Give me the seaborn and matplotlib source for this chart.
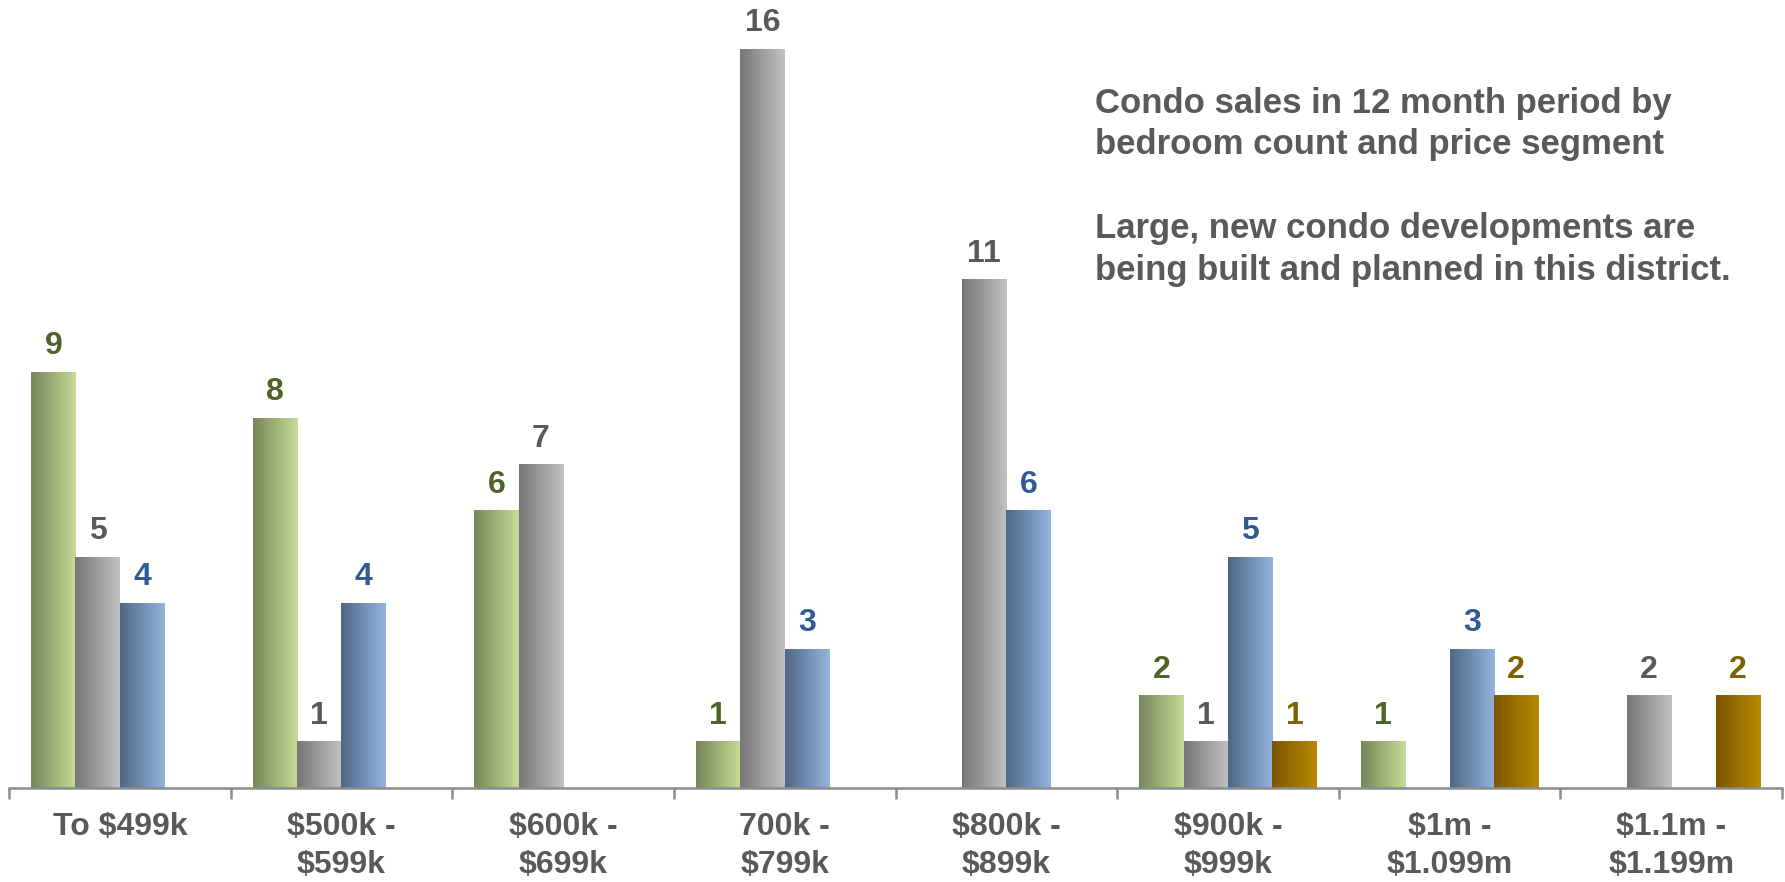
import numpy as np
import pandas as pd
import matplotlib
matplotlib.use("Agg")
import matplotlib.pyplot as plt
from matplotlib.colors import LinearSegmentedColormap
from matplotlib.font_manager import FontProperties
import seaborn as sns

categories = ["To $499k", "$500k -\n$599k", "$600k -\n$699k", "700k -\n$799k",
              "$800k -\n$899k", "$900k -\n$999k", "$1m -\n$1.099m", "$1.1m -\n$1.199m"]
series = ["1 bedroom", "2 bedrooms", "3 bedrooms", "4 bedrooms"]
one_bed = [9, 8, 6, 1, 0, 2, 1, 0]
two_bed = [5, 1, 7, 16, 11, 1, 0, 2]
three_bed = [4, 4, 0, 3, 6, 5, 3, 0]
four_bed = [0, 0, 0, 0, 0, 1, 2, 2]
title_lines = ["Condo sales in 12 month period by", "bedroom count and price segment",
               "Large, new condo developments are", "being built and planned in this district."]

base_colors = ["#9fb377", "#9c9c9c", "#7390b8", "#9a7000"]
grad_dark = ["#76865a", "#767676", "#4f6686", "#7a5600"]
grad_light = ["#c6dc96", "#c2c2c2", "#94b4de", "#b98a00"]
label_colors = ["#4f6228", "#595959", "#2f5a93", "#7f6000"]
text_gray = "#595959"
axis_gray = "#8c8c8c"

rows = []
for s, vals in zip(series, [one_bed, two_bed, three_bed, four_bed]):
    for c, v in zip(categories, vals):
        rows.append({"category": c, "series": s, "count": v})
df = pd.DataFrame(rows)

sns.set_style("white")
plt.rcParams["font.family"] = ["Liberation Sans", "DejaVu Sans"]

W, H = 1785, 882
DPI = 100
fig = plt.figure(figsize=(W / DPI, H / DPI), dpi=DPI)
renderer = fig.canvas.get_renderer()

def metrics_px(s, size):
    fp = FontProperties(family=["Liberation Sans"], weight="bold", size=size)
    w, h, d = renderer.get_text_width_height_descent(s, fp, ismath=False)
    return h - d, d

ax_left, ax_right = 9, 1782
base_y = 788
ymax = 17
px_per_unit = (788 - 49) / 16
ax_h = ymax * px_per_unit
ax = fig.add_axes([ax_left / W, (H - base_y) / H, (ax_right - ax_left) / W, ax_h / H])

sns.barplot(data=df, x="category", y="count", hue="series", order=categories,
            hue_order=series, palette=base_colors, width=0.8, ax=ax,
            legend=False, errorbar=None, saturation=1)

val_size = 23
_, val_desc = metrics_px("16", val_size)
val_pad_pt = max(0.0, (11 - val_desc)) * 72 / DPI

for i, cont in enumerate(ax.containers):
    cmap = LinearSegmentedColormap.from_list(f"g{i}", [grad_dark[i], grad_light[i]])
    grad = np.linspace(0, 1, 256).reshape(1, -1)
    labels = []
    for p in cont.patches:
        h = p.get_height()
        x0 = p.get_x()
        w = p.get_width()
        p.set_facecolor("none")
        p.set_edgecolor("none")
        if h and h > 0:
            ax.imshow(grad, extent=[x0, x0 + w, 0, h], aspect="auto", cmap=cmap,
                      zorder=2, interpolation="bilinear")
            labels.append(f"{int(h)}")
        else:
            labels.append("")
    ax.bar_label(cont, labels=labels, padding=val_pad_pt, color=label_colors[i],
                 fontsize=val_size, fontweight="bold")

ax.set_xlim(-0.5, len(categories) - 0.5)
ax.set_ylim(0, ymax)
ax.set_xlabel("")
ax.set_ylabel("")
ax.set_yticks([])
for sp in ["top", "right", "left"]:
    ax.spines[sp].set_visible(False)
ax.spines["bottom"].set_color(axis_gray)
ax.spines["bottom"].set_linewidth(1.8)

tick_size = 23
lp_asc, _ = metrics_px("lp", tick_size)
line2_asc, _ = metrics_px("$599k", tick_size)
tick_ls = 0.88 * 35 / max(lp_asc, line2_asc)
first_asc, _ = metrics_px("$500k -", tick_size)
first_asc = max(first_asc, lp_asc)
tick_pad_pt = (835 - base_y - first_asc) * 72 / DPI

ax.set_xticks(range(len(categories)))
ax.set_xticklabels(categories, fontsize=tick_size, fontweight="bold", color=text_gray,
                   linespacing=tick_ls)
ax.set_xticks(np.arange(-0.5, len(categories), 1), minor=True)
ax.tick_params(axis="x", which="major", length=0, pad=tick_pad_pt)
ax.tick_params(axis="x", which="minor", length=8, width=1.8, color=axis_gray,
               direction="out", bottom=True)

title_size = 25
title_baselines = [113, 154, 238, 280]
for line, yb in zip(title_lines, title_baselines):
    fig.text(1095 / W, 1 - yb / H, line, fontsize=title_size, fontweight="bold",
             color=text_gray, va="baseline", ha="left")

fig.savefig("out.png", dpi=DPI)
